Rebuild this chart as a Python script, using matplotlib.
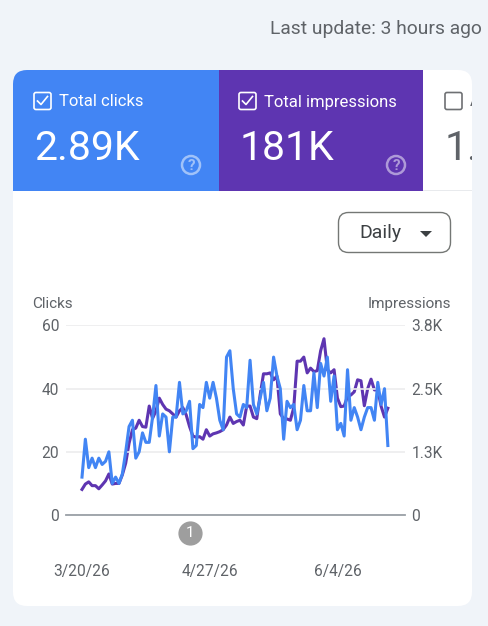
import matplotlib
matplotlib.use('Agg')
import matplotlib.pyplot as plt
import matplotlib.dates as mdates
import pandas as pd
from matplotlib.patches import FancyBboxPatch, Rectangle, Circle, Polygon
from matplotlib.transforms import Bbox, TransformedBbox

plt.rcParams['font.family'] = ['Roboto', 'DejaVu Sans']

# daily values
start_date = '2026-03-20'
clicks = [12, 24, 15, 18, 15, 18, 16, 17, 20, 10, 12, 10, 13, 20, 28, 30, 18, 20, 26, 23,
          23, 31, 41, 25, 32, 31, 20, 31, 31, 42, 32, 33, 36, 21, 22, 35, 34, 42, 37, 42,
          37, 30, 27, 50, 52, 40, 32, 31, 35, 34, 49, 35, 32, 37, 42, 33, 37, 50, 44, 40,
          24, 36, 34, 35, 27, 30, 41, 33, 33, 45, 34, 48, 44, 50, 36, 44, 27, 29, 25, 46,
          30, 34, 31, 27, 31, 34, 34, 30, 42, 35, 40, 22]
impressions = [506, 612, 656, 581, 581, 519, 594, 675, 812, 612, 625, 625, 794, 1025, 1419,
               1688, 1719, 1875, 1750, 1738, 2156, 1912, 2062, 2312, 2188, 2094, 2062, 2000,
               1938, 2062, 2125, 1981, 1750, 1562, 1538, 1550, 1500, 1688, 1562, 1606, 1625,
               1650, 1688, 1781, 1938, 1812, 1850, 1875, 1781, 2156, 2156, 1938, 1906, 2375,
               2794, 2794, 2812, 2675, 2750, 2000, 1906, 1900, 1875, 2125, 3044, 3044, 3125,
               2812, 2906, 2838, 2856, 3250, 3488, 2875, 2812, 2875, 2312, 2144, 2156, 2344,
               2375, 2438, 2675, 2656, 2162, 2500, 2688, 2475, 2475, 2150, 1938, 2112]
dates = pd.date_range(start_date, periods=len(clicks), freq='D')

clicks_ticks = [0, 20, 40, 60]
impr_ticks = [0, 1250, 2500, 3750]
impr_labels = ['0', '1.3K', '2.5K', '3.8K']
date_ticks = ['2026-03-20', '2026-04-27', '2026-06-04']
date_labels = ['3/20/26', '4/27/26', '6/4/26']

W, H = 488, 626
fig = plt.figure(figsize=(W / 100, H / 100), dpi=100, facecolor='#f0f4f9')

# page layer in pixel coordinates
bg = fig.add_axes([0, 0, 1, 1], zorder=0)
bg.set_xlim(0, W)
bg.set_ylim(H, 0)
bg.axis('off')

card = FancyBboxPatch((13, 70), 459, 536, boxstyle='round,pad=0,rounding_size=14',
                      fc='white', ec='none')
bg.add_patch(card)
tile1 = Rectangle((13, 70), 206, 121, fc='#4285f4', ec='none')
tile2 = Rectangle((219, 70), 204, 121, fc='#5e35b1', ec='none')
sep = Rectangle((423, 190), 49, 1, fc='#e8eaed', ec='none')
for p in [tile1, tile2, sep]:
    bg.add_patch(p)
    p.set_clip_path(card)

bg.text(482, 29, 'Last update: 3 hours ago', ha='right', va='center',
        fontsize=13.85, color='#5f6368')


def checkbox(x, color, ticked):
    bg.add_patch(FancyBboxPatch((x, 92.5), 17, 17, boxstyle='round,pad=0,rounding_size=2',
                                fc='none', ec=color, lw=1.2))
    if ticked:
        bg.plot([x + 3.5, x + 7, x + 13.5], [101, 104.5, 96.5], color=color, lw=1.2)


def help_icon(x, color):
    bg.add_patch(Circle((x, 165), 9, fc='none', ec=color, lw=1.8))
    bg.text(x, 165.5, '?', ha='center', va='center', fontsize=11, color=color,
            fontweight='bold')


checkbox(34, 'white', True)
bg.text(59, 102, 'Total clicks', va='center', fontsize=12, color='white')
bg.text(34, 148.5, '2.89K', va='center', fontsize=29.5, color='white')
help_icon(191, '#a0c2f9')

checkbox(239, 'white', True)
bg.text(264, 102, 'Total impressions', va='center', fontsize=12, color='white')
bg.text(240, 148.5, '181K', va='center', fontsize=29.5, color='white')
help_icon(396, '#ae9ad8')

# third tile is cut by the card edge; Agg only clips text to a box
checkbox(445, '#6e7073', False)
tile3_box = TransformedBbox(Bbox([[423, 70], [472, 191]]), bg.transData)
for txt in [bg.text(470, 102, 'A', va='center', fontsize=12, color='#5f6368'),
            bg.text(445, 148.5, '1.', va='center', fontsize=29.5, color='#5f6368')]:
    txt.set_clip_on(True)
    txt.set_clip_box(tile3_box)

# Daily dropdown
bg.add_patch(FancyBboxPatch((338.5, 212.5), 112, 40, boxstyle='round,pad=0,rounding_size=10',
                            fc='white', ec='#747775', lw=1))
bg.text(359, 232.5, 'Daily', va='center', fontsize=14, color='#3c4043')
bg.add_patch(Polygon([[420, 231], [432, 231], [426, 237]], fc='#3c4043', ec='none'))

# chart: 60 sits at y=325.5 and 0 at y=515, axis runs x=66..405
ax = fig.add_axes([66 / W, 1 - 515 / H, (405 - 66) / W, (515 - 325.5) / H], zorder=2)
ax.patch.set_alpha(0)
ax2 = ax.twinx()
ax2.patch.set_alpha(0)

ax.set_ylim(0, 60)
ax2.set_ylim(0, 3750)
ax.set_xlim(dates[0] - pd.Timedelta(days=4.76), dates[0] + pd.Timedelta(days=96.1))

ax.set_yticks(clicks_ticks)
ax2.set_yticks(impr_ticks)
ax2.set_yticklabels(impr_labels)
ax.set_xticks(pd.to_datetime(date_ticks))
ax.set_xticklabels(date_labels)
ax.grid(axis='y', color='#ececee', lw=1.2)
ax.set_axisbelow(True)

for a in [ax, ax2]:
    for s in a.spines.values():
        s.set_visible(False)
    a.tick_params(length=0, labelsize=11.2, labelcolor='#5f6368')
ax.spines['bottom'].set_visible(True)
ax.spines['bottom'].set_color('#9aa0a6')
ax.spines['bottom'].set_linewidth(1.3)
ax.tick_params(axis='x', pad=35)
ax.tick_params(axis='y', pad=5)
ax2.tick_params(axis='y', pad=4.5)

# purple under blue, as in the original
ax.set_zorder(3)
ax2.set_zorder(2)
ax2.plot(dates, impressions, color='#5e35b1', lw=2.2, solid_joinstyle='round', zorder=3)
ax.plot(dates, clicks, color='#4285f4', lw=2.2, solid_joinstyle='round', zorder=4)

ax.text(-0.1, 1.115, 'Clicks', transform=ax.transAxes, ha='left', va='center',
        fontsize=11, color='#5f6368')
ax.text(1.136, 1.115, 'Impressions', transform=ax.transAxes, ha='right', va='center',
        fontsize=11, color='#5f6368')

# annotation marker below the axis
note_date = mdates.date2num(pd.Timestamp('2026-04-21'))
trans = ax.get_xaxis_transform()
ax.scatter([note_date], [-0.095], s=270, color='#9e9e9e', transform=trans, clip_on=False, zorder=5)
ax.text(note_date, -0.095, '1', transform=trans, ha='center', va='center', fontsize=11,
        color='white', zorder=6)

fig.savefig('out.png', dpi=100, facecolor=fig.get_facecolor())
